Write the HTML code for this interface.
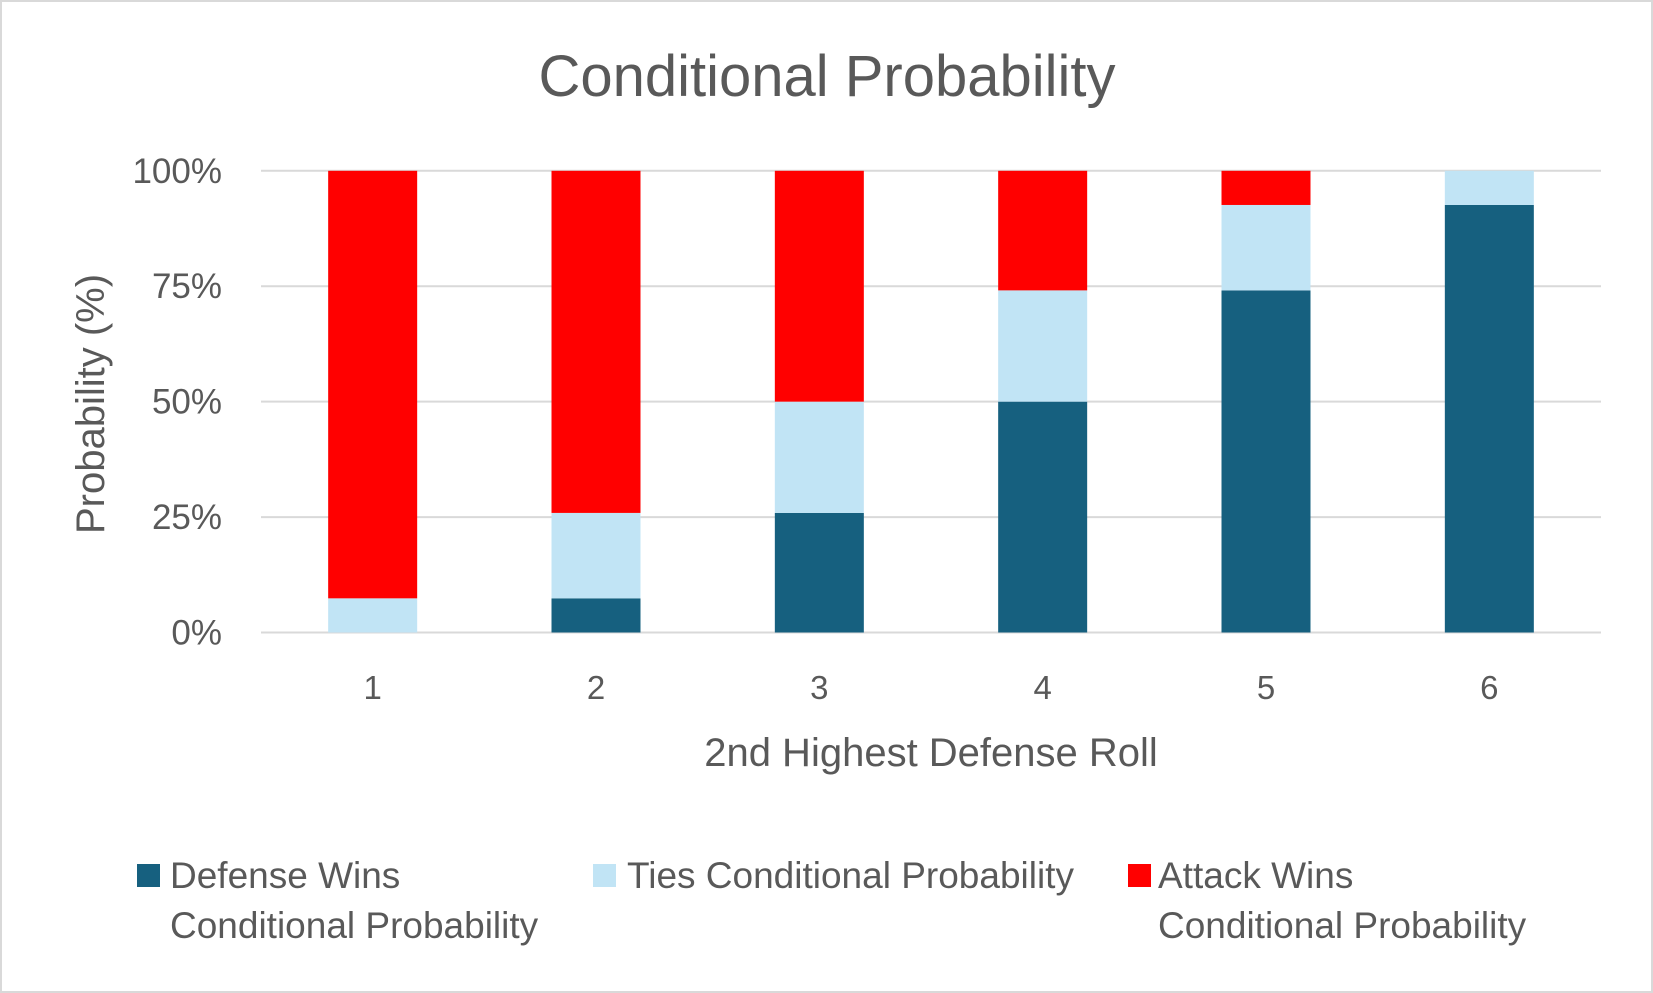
<!DOCTYPE html>
<html><head><meta charset="utf-8"><style>
html,body{margin:0;padding:0;background:#fff;}
svg{display:block;font-family:"Liberation Sans",sans-serif;}
</style></head><body>
<svg id="chart" width="1653" height="993">
<rect x="1" y="1" width="1651" height="991" fill="#fff" stroke="#d9d9d9" stroke-width="2"/>
<text x="827" y="96" font-size="58" fill="#595959" text-anchor="middle">Conditional Probability</text>
<g id="grid"></g>
<g id="bars"></g>
<g id="labels"></g>
<text transform="translate(104,404) rotate(-90)" font-size="40" fill="#595959" text-anchor="middle">Probability (%)</text>
<text x="931" y="766" font-size="40" fill="#595959" text-anchor="middle">2nd Highest Defense Roll</text>
<g>
<rect x="137" y="864" width="23" height="23" fill="#16607f"/>
<text x="170" y="888" font-size="37" fill="#595959"><tspan x="170">Defense Wins</tspan><tspan x="170" dy="50">Conditional Probability</tspan></text>
<rect x="593" y="864" width="23" height="23" fill="#c1e4f5"/>
<text x="627" y="888" font-size="37" fill="#595959">Ties Conditional Probability</text>
<rect x="1128" y="864" width="23" height="23" fill="#ff0000"/>
<text x="1158" y="888" font-size="37" fill="#595959"><tspan x="1158">Attack Wins</tspan><tspan x="1158" dy="50">Conditional Probability</tspan></text>
</g>
</svg>
<script>
const categories = ["1","2","3","4","5","6"];
const defense = [0, 7.4, 25.9, 50, 74.1, 92.6];
const ties = [7.4, 18.5, 24.1, 24.1, 18.5, 7.4];
const attack = [92.6, 74.1, 50, 25.9, 7.4, 0];
const yTicks = [0, 25, 50, 75, 100];
const yTickLabels = ["0%", "25%", "50%", "75%", "100%"];

const NS = "http://www.w3.org/2000/svg";
const plotL = 261, plotR = 1601, y0 = 632.5, y100 = 170.8, barW = 89;
const yScale = v => y0 - (v / 100) * (y0 - y100);
const band = (plotR - plotL) / categories.length;
const xCenter = i => plotL + band * (i + 0.5);
function mk(tag, attrs, parent){const e=document.createElementNS(NS,tag);for(const k in attrs)e.setAttribute(k,attrs[k]);parent.appendChild(e);return e;}
const grid=document.getElementById('grid'), bars=document.getElementById('bars'), labels=document.getElementById('labels');
yTicks.forEach((t,i)=>{
  const l=mk('line',{x1:plotL,x2:plotR,y1:yScale(t),y2:yScale(t),stroke:'#d9d9d9','stroke-width':2},grid);
  
  
  const tx=mk('text',{x:222,y:yScale(t)+12,'font-size':35,fill:'#595959','text-anchor':'end'},labels);
  tx.textContent=yTickLabels[i];
  
  
});
const series=[[defense,'#16607f','defense'],[ties,'#c1e4f5','ties'],[attack,'#ff0000','attack']];
categories.forEach((c,i)=>{
  let base=0;
  series.forEach(([vals,col,nm])=>{
    const v=vals[i];
    if(v>0){
      const r=mk('rect',{x:xCenter(i)-barW/2,y:yScale(base+v),width:barW,height:yScale(base)-yScale(base+v),fill:col},bars);
      
      
    }
    base+=v;
  });
  const tx=mk('text',{x:xCenter(i),y:699,'font-size':33,fill:'#595959','text-anchor':'middle'},labels);
  tx.textContent=c;
  
  
});
</script>
</body></html>
